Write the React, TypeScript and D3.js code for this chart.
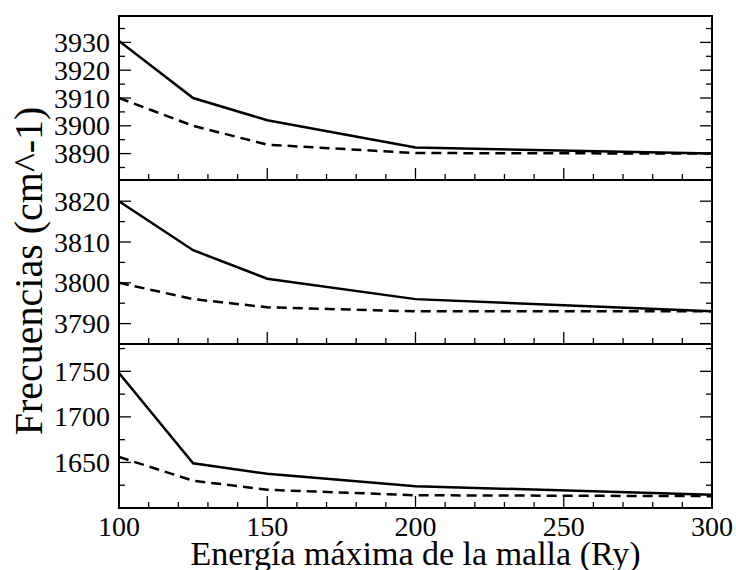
import React from "react";
import * as d3 from "d3";

const energies = [100, 125, 150, 200, 300];

const panel1Solid = [3930.5, 3910, 3902, 3892.2, 3890];
const panel1Dashed = [3910, 3900, 3893.2, 3890.2, 3890];
const panel2Solid = [3820, 3808, 3801, 3796, 3793];
const panel2Dashed = [3800, 3796, 3794, 3793, 3793];
const panel3Solid = [1748, 1649, 1637.5, 1624, 1614.5];
const panel3Dashed = [1656, 1630, 1620, 1614, 1613];

const panel1Ticks = [3890, 3900, 3910, 3920, 3930];
const panel2Ticks = [3790, 3800, 3810, 3820];
const panel3Ticks = [1650, 1700, 1750];
const xTicks = [100, 150, 200, 250, 300];

const xTitle = "Energía máxima de la malla (Ry)";
const yTitle = "Frecuencias (cm^-1)";

const W = 736;
const H = 570;
const left = 119;
const right = 712;
const top = 16;
const bottom = 508;
const panelH = (bottom - top) / 3;
const FONT = "Liberation Serif, Times New Roman, Times, DejaVu Serif, Noto Serif, serif";

const panels = [
  { domain: [3880.5, 3939.5], solid: panel1Solid, dashed: panel1Dashed, ticks: panel1Ticks, minorStep: 5 },
  { domain: [3785, 3825.2], solid: panel2Solid, dashed: panel2Dashed, ticks: panel2Ticks, minorStep: 5 },
  { domain: [1600, 1780], solid: panel3Solid, dashed: panel3Dashed, ticks: panel3Ticks, minorStep: 25 },
];

export default function App() {
  const x = d3.scaleLinear().domain([100, 300]).range([left, right]);
  const xMinor = d3.range(100, 301, 10);

  return (
    <div style={{ position: "absolute", left: 0, top: 0 }}>
      <svg width={W} height={H} style={{ display: "block", background: "#fff", fontFamily: FONT }}>
        {panels.map((p, i) => {
          const y0 = top + i * panelH;
          const y1 = y0 + panelH;
          const y = d3.scaleLinear().domain(p.domain).range([y1, y0]);
          const line = d3
            .line<number>()
            .x((_, j) => x(energies[j]))
            .y((v) => y(v));
          const lo = Math.ceil(p.domain[0] / p.minorStep) * p.minorStep;
          const minorY = d3
            .range(lo, p.domain[1] + 0.001, p.minorStep)
            .filter((v) => !p.ticks.includes(v) && y(v) > y0 + 2 && y(v) < y1 - 2);
          return (
            <g key={i}>
              <clipPath id={`clip${i}`}>
                <rect x={left} y={y0} width={right - left} height={panelH} />
              </clipPath>
              <g clipPath={`url(#clip${i})`}>
                <path d={line(p.dashed) || ""} fill="none" stroke="#000" strokeWidth={2.5} strokeDasharray="10,6" />
                <path d={line(p.solid) || ""} fill="none" stroke="#000" strokeWidth={2.5} />
              </g>
              {xMinor.map((v) => {
                const major = xTicks.includes(v);
                return (
                  <line
                    key={`xt${v}`}
                    x1={x(v)}
                    x2={x(v)}
                    y1={y1}
                    y2={y1 - (major ? 12 : 6)}
                    stroke="#000"
                    strokeWidth={1.3}
                  />
                );
              })}
              {p.ticks.map((v) => (
                <g key={`yt${v}`}>
                  <line x1={left} x2={left + 12} y1={y(v)} y2={y(v)} stroke="#000" strokeWidth={1.3} />
                  <line x1={right} x2={right - 12} y1={y(v)} y2={y(v)} stroke="#000" strokeWidth={1.3} />
                  <text x={left - 9} y={y(v)} dy="0.34em" textAnchor="end" fontFamily={FONT} fontSize={28} fill="#000">
                    {v}
                  </text>
                </g>
              ))}
              {minorY.map((v) => (
                <g key={`ym${v}`}>
                  <line x1={left} x2={left + 6} y1={y(v)} y2={y(v)} stroke="#000" strokeWidth={1.3} />
                  <line x1={right} x2={right - 6} y1={y(v)} y2={y(v)} stroke="#000" strokeWidth={1.3} />
                </g>
              ))}
              <rect x={left} y={y0} width={right - left} height={panelH} fill="none" stroke="#000" strokeWidth={2} />
            </g>
          );
        })}
        {xTicks.map((v) => (
          <text key={`xl${v}`} x={x(v)} y={536} textAnchor="middle" fontFamily={FONT} fontSize={28} fill="#000">
            {v}
          </text>
        ))}
        <text x={(left + right) / 2} y={565} textAnchor="middle" fontFamily={FONT} fontSize={34} fill="#000">
          {xTitle}
        </text>
        <text transform={`translate(42, 271) rotate(-90)`} textAnchor="middle" fontFamily={FONT} fontSize={40} fill="#000">
          {yTitle}
        </text>
      </svg>
    </div>
  );
}
